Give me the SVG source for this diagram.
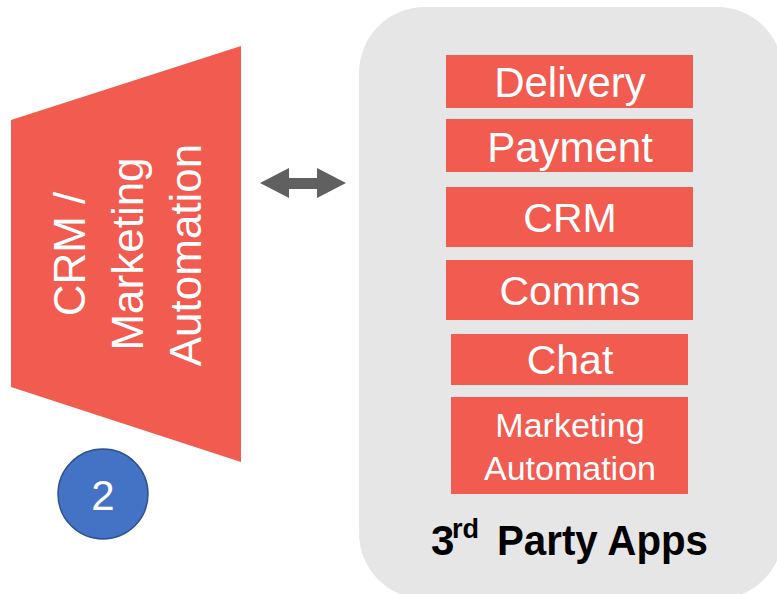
<svg xmlns="http://www.w3.org/2000/svg" width="777" height="594" viewBox="0 0 777 594">
  <style>
    .red { fill: #f15b50; }
    .lbl { font-family: "Liberation Sans", Arial, sans-serif; fill: #ffffff; text-anchor: middle; }
    .title { font-family: "Liberation Sans", Arial, sans-serif; font-weight: bold; fill: #000000; }
  </style>
  <rect width="777" height="594" fill="#ffffff"/>

  <!-- CRM / Marketing Automation funnel -->
  <g id="crm-funnel">
    <polygon class="red" points="11,120 241,46 241,462 11,387"/>
    <text class="lbl" font-size="44" transform="translate(85,254) rotate(-90)">CRM /</text>
    <text class="lbl" font-size="44" transform="translate(143,254) rotate(-90)">Marketing</text>
    <text class="lbl" font-size="44" transform="translate(201,255) rotate(-90)">Automation</text>
  </g>

  <!-- step badge -->
  <g id="step-badge">
    <circle cx="103" cy="494" r="45" fill="#4472c4" stroke="#2f528f" stroke-width="1.5"/>
    <text class="lbl" font-size="42" x="103" y="510">2</text>
  </g>

  <!-- third-party apps panel -->
  <g id="apps-panel">
    <rect x="359" y="7" width="424" height="592" rx="66" ry="66" fill="#e6e6e6"/>
    <text class="title" font-size="42" x="431" y="555">3</text>
    <text class="title" font-size="27" x="452" y="538">rd</text>
    <text class="title" font-size="42" x="497" y="555" textLength="211" lengthAdjust="spacingAndGlyphs">Party Apps</text>
  </g>

  <g id="app-delivery">
    <rect class="red" x="446" y="55" width="247" height="53"/>
    <text class="lbl" font-size="42" x="570" y="97">Delivery</text>
  </g>
  <g id="app-payment">
    <rect class="red" x="446" y="119" width="247" height="53"/>
    <text class="lbl" font-size="42" x="570" y="162">Payment</text>
  </g>
  <g id="app-crm">
    <rect class="red" x="446" y="187" width="247" height="60"/>
    <text class="lbl" font-size="41" x="570" y="232">CRM</text>
  </g>
  <g id="app-comms">
    <rect class="red" x="446" y="260" width="247" height="60"/>
    <text class="lbl" font-size="41" x="570" y="305">Comms</text>
  </g>
  <g id="app-chat">
    <rect class="red" x="451" y="334" width="237" height="51"/>
    <text class="lbl" font-size="41" x="570" y="374">Chat</text>
  </g>
  <g id="app-marketing">
    <rect class="red" x="451" y="397" width="237" height="97"/>
    <text class="lbl" font-size="34" x="570" y="437">Marketing</text>
    <text class="lbl" font-size="34" x="570" y="480">Automation</text>
  </g>

  <!-- connectors -->
  <g id="connectors">
    <polygon fill="#606060" points="260,183 289,168 289,178 317,178 317,168 346,183 317,198 317,189 289,189 289,198"/>
  </g>
</svg>
